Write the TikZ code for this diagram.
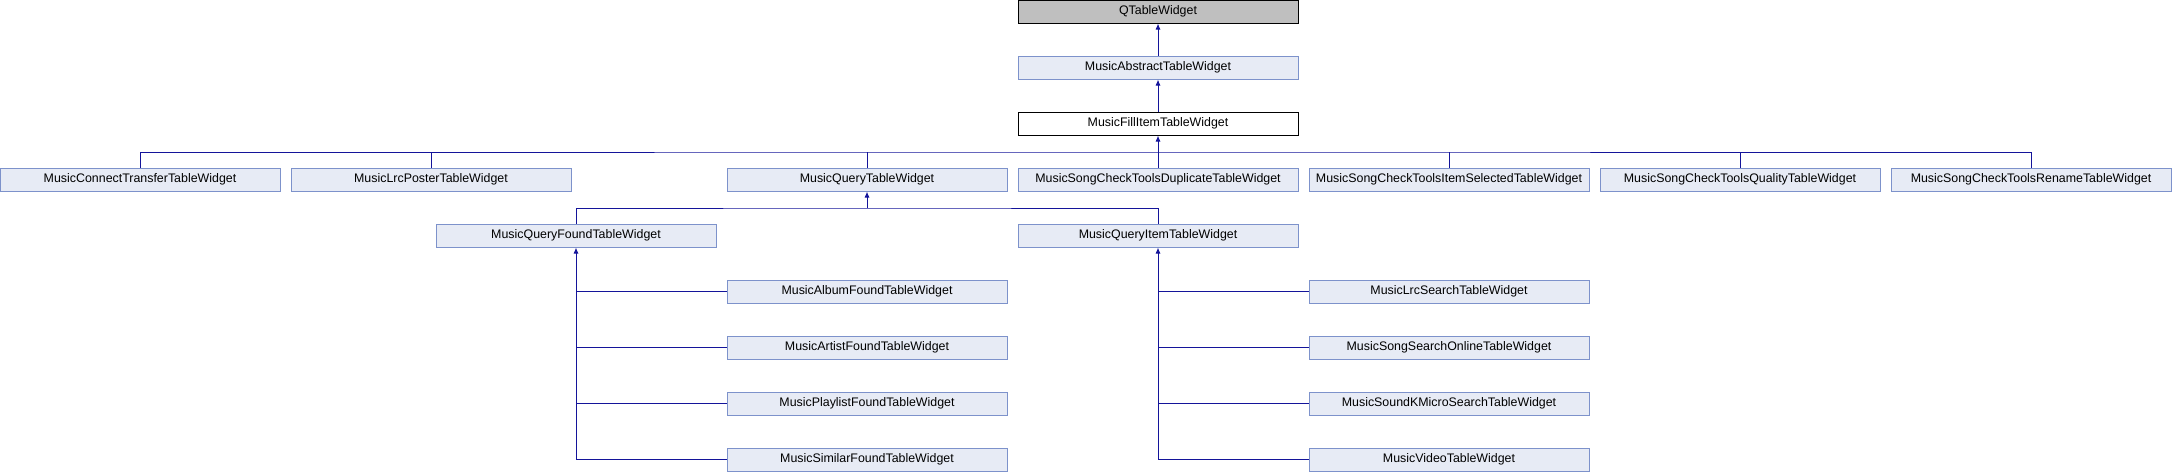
\documentclass[tikz,border=0pt]{standalone}
\usepackage{fontspec}
\setmainfont{Liberation Sans}
\usetikzlibrary{arrows.meta}
\definecolor{boxfill}{HTML}{E7EBF5}
\definecolor{boxdraw}{HTML}{7D92CB}
\definecolor{edgecol}{HTML}{14149A}
\definecolor{basefill}{HTML}{BFBFBF}
\tikzset{
  cls/.style={draw=boxdraw, fill=boxfill, line width=1pt, minimum width=280pt, minimum height=23pt, inner sep=0pt, font=\fontsize{12.4}{14}\selectfont, text=black},
  basecls/.style={cls, draw=black, fill=basefill},
  curcls/.style={cls, draw=black, fill=white},
  conn/.style={draw=edgecol, line width=1pt},
  arr/.style={conn, -{Latex[length=6pt,width=5pt]}},
}
\begin{document}
\begin{tikzpicture}[x=1pt,y=-1pt]
\useasboundingbox (0,0) rectangle (2172,472);
% row 0-2
\node[basecls] (qtw) at (1158,11.5) {QTableWidget};
\node[cls] (abs) at (1158,67.5) {MusicAbstractTableWidget};
\node[curcls] (fill) at (1158,123.5) {MusicFillItemTableWidget};
% row 3
\node[cls] (conn) at (140,179.5) {MusicConnectTransferTableWidget};
\node[cls] (lrcp) at (431,179.5) {MusicLrcPosterTableWidget};
\node[cls] (query) at (867,179.5) {MusicQueryTableWidget};
\node[cls] (dup) at (1158,179.5) {MusicSongCheckToolsDuplicateTableWidget};
\node[cls] (sel) at (1449,179.5) {MusicSongCheckToolsItemSelectedTableWidget};
\node[cls] (qual) at (1740,179.5) {MusicSongCheckToolsQualityTableWidget};
\node[cls] (ren) at (2031,179.5) {MusicSongCheckToolsRenameTableWidget};
% row 4
\node[cls] (qfound) at (576,235.5) {MusicQueryFoundTableWidget};
\node[cls] (qitem) at (1158,235.5) {MusicQueryItemTableWidget};
% rows 5-8
\node[cls] (album) at (867,291.5) {MusicAlbumFoundTableWidget};
\node[cls] (artist) at (867,347.5) {MusicArtistFoundTableWidget};
\node[cls] (playlist) at (867,403.5) {MusicPlaylistFoundTableWidget};
\node[cls] (similar) at (867,459.5) {MusicSimilarFoundTableWidget};
\node[cls] (lrcs) at (1449,291.5) {MusicLrcSearchTableWidget};
\node[cls] (online) at (1449,347.5) {MusicSongSearchOnlineTableWidget};
\node[cls] (kmicro) at (1449,403.5) {MusicSoundKMicroSearchTableWidget};
\node[cls] (video) at (1449,459.5) {MusicVideoTableWidget};
% bars
\coordinate (bar1) at (1158,152);
\coordinate (bar2) at (867,208);
% edges
\draw[arr] (abs.north) -- (qtw.south);
\draw[arr] (fill.north) -- (abs.south);
\draw[arr] (bar1) -- (fill.south);
\draw[conn] (conn.north) |- (bar1) -| (ren.north);
\foreach \n in {lrcp,query,dup,sel,qual}{
  \draw[conn] (\n.north) -- (\n.north |- bar1);
}
\draw[arr] (bar2) -- (query.south);
\draw[conn] (qfound.north) |- (bar2) -| (qitem.north);
\draw[arr] (qfound.south |- similar.west) -- (qfound.south);
\foreach \n in {album,artist,playlist,similar}{
  \draw[conn] (\n.west) -- (\n.west -| qfound.south);
}
\draw[arr] (qitem.south |- video.west) -- (qitem.south);
\foreach \n in {lrcs,online,kmicro,video}{
  \draw[conn] (\n.west) -- (\n.west -| qitem.south);
}
\end{tikzpicture}
\end{document}
